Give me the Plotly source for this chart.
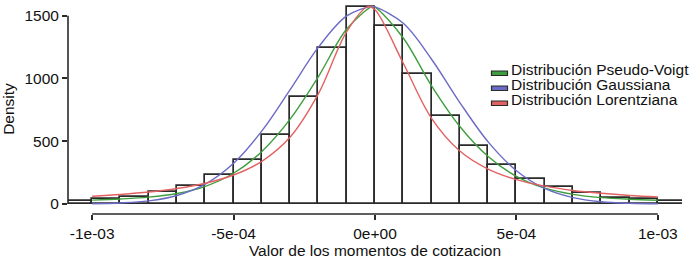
import plotly.graph_objects as go

# ---------------- data ----------------
bin_left = [-1.1e-3, -1.0e-3, -9e-4, -8e-4, -7e-4, -6e-4, -5e-4, -4e-4, -3e-4, -2e-4, -1e-4,
            0.0, 1e-4, 2e-4, 3e-4, 4e-4, 5e-4, 6e-4, 7e-4, 8e-4, 9e-4, 1.0e-3]
bin_width = 1e-4
density = [20, 40, 57, 92, 147, 230, 350, 548, 856, 1242, 1572,
           1418, 1036, 703, 465, 307, 198, 136, 87, 45, 36, 20]

curve_x = [-1.0e-3, -9e-4, -8e-4, -7e-4, -6e-4, -5e-4, -4e-4, -3e-4, -2e-4, -1e-4, 0.0,
           1e-4, 2e-4, 3e-4, 4e-4, 5e-4, 6e-4, 7e-4, 8e-4, 9e-4, 1.0e-3]
peak_x = {"pv": -1e-5, "gauss": -1.5e-5, "lor": -2.5e-5}
peak_y = 1572
pseudo_voigt = [31, 40, 55, 84, 141, 245, 419, 676, 1015, 1394, 1569,
                1322, 941, 617, 378, 220, 126, 77, 51, 38, 30]
gaussiana = [2.3, 8.2, 25, 68, 158, 324, 582, 911, 1249, 1498, 1570,
             1439, 1153, 808, 495, 265, 124, 51, 18, 5.7, 1.6]
lorentziana = [62, 76, 95, 123, 165, 231, 340, 533, 879, 1373, 1547,
               1121, 682, 422, 278, 194, 142, 108, 85, 68, 56]

x_tickvals = [-1e-3, -5e-4, 0, 5e-4, 1e-3]
x_ticktext = ["-1e-03", "-5e-04", "0e+00", "5e-04", "1e-03"]
y_tickvals = [0, 500, 1000, 1500]
y_ticktext = ["0", "500", "1000", "1500"]

legend_names = ["Distribución Pseudo-Voigt", "Distribución Gaussiana", "Distribución Lorentziana"]
colors = {"pv": "#3E9E3E", "gauss": "#6B6BC6", "lor": "#E26262"}

# ---------------- layout geometry ----------------
W, H = 690, 276
ML, MR, MT, MB = 68, 8, 4, 62
PW, PH = W - ML - MR, H - MT - MB
FONT = "Liberation Sans, Arial, sans-serif"
FS = 15.5
DARK = "#2a2a2a"


def px_x(px):
    return (px - ML) / PW


def px_y(py):
    return (H - MB - py) / PH


def with_peak(xs, ys, px, py):
    pts = sorted(list(zip(xs, ys)) + [(px, py)])
    return [p[0] for p in pts], [p[1] for p in pts]


fig = go.Figure()

fig.add_trace(go.Bar(
    x=[b + bin_width / 2 for b in bin_left], y=density, width=bin_width,
    marker=dict(color="rgba(255,255,255,0)", line=dict(color=DARK, width=1.7)),
    showlegend=False, hoverinfo="skip"))

for key, ys, name in [("pv", pseudo_voigt, legend_names[0]),
                      ("gauss", gaussiana, legend_names[1]),
                      ("lor", lorentziana, legend_names[2])]:
    xx, yy = with_peak(curve_x, ys, peak_x[key], peak_y)
    fig.add_trace(go.Scatter(x=xx, y=yy, mode="lines", name=name,
                             line=dict(color=colors[key], width=1.4, shape="spline", smoothing=1.0),
                             showlegend=False))

shapes = [
    # x axis line (spans first to last tick)
    dict(type="line", xref="x", yref="paper", x0=x_tickvals[0], x1=x_tickvals[-1], y0=0, y1=0,
         line=dict(color=DARK, width=1.6)),
    # y axis line
    dict(type="line", xref="paper", yref="y", x0=0, x1=0, y0=y_tickvals[0], y1=y_tickvals[-1],
         line=dict(color=DARK, width=1.6)),
]
annotations = []
legend_rows_py = [69.5, 84.5, 99.5]
for key, name, cy in zip(["pv", "gauss", "lor"], legend_names, legend_rows_py):
    shapes.append(dict(type="rect", xref="paper", yref="paper",
                       x0=px_x(491.5), x1=px_x(507.5), y0=px_y(cy + 1.5), y1=px_y(cy + 6),
                       fillcolor=colors[key], line=dict(color=DARK, width=1.2)))
    annotations.append(dict(text=name, xref="paper", yref="paper", x=px_x(509), y=px_y(cy),
                            xanchor="left", yanchor="middle", showarrow=False,
                            font=dict(family=FONT, size=FS, color="#111111")))

fig.update_layout(
    width=W, height=H,
    margin=dict(l=ML, r=MR, t=MT, b=MB, pad=0),
    paper_bgcolor="white", plot_bgcolor="white",
    font=dict(family=FONT, size=FS, color="#111111"),
    barmode="overlay", bargap=0,
    showlegend=False,
    shapes=shapes, annotations=annotations,
    xaxis=dict(range=[-1.0855e-3, 1.0855e-3], tickvals=x_tickvals, ticktext=x_ticktext,
               ticks="outside", ticklen=5, tickwidth=1.5, tickcolor=DARK,
               showline=False, showgrid=False, zeroline=False,
               title=dict(text="Valor de los momentos de cotizacion", standoff=0,
                          font=dict(family=FONT, size=FS)),
               automargin=False),
    yaxis=dict(range=[-79.7, 1593], tickvals=y_tickvals, ticktext=y_ticktext,
               ticks="outside", ticklen=5, tickwidth=1.5, tickcolor=DARK,
               showline=False, showgrid=False, zeroline=False,
               title=dict(text="Density", standoff=10, font=dict(family=FONT, size=FS)),
               automargin=False),
)

fig.write_html("out.html")
